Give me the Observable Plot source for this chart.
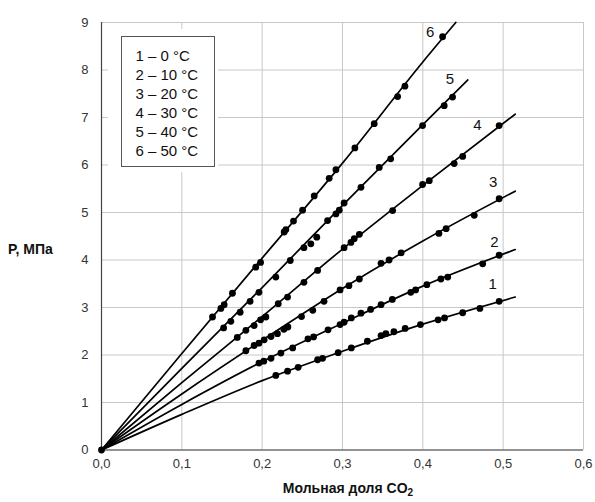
<!DOCTYPE html>
<html><head><meta charset="utf-8">
<script src="https://cdn.jsdelivr.net/npm/d3@7"></script>
<script src="https://cdn.jsdelivr.net/npm/@observablehq/plot@0.6"></script>
<style>
body{margin:0;background:#fff;}
#wrap{position:relative;width:595px;height:502px;font-family:"Liberation Sans",Arial,sans-serif;background:#fff;}
#legend{position:absolute;left:108px;top:29px;width:110px;height:143px;background:#fff;}
#legend .box{position:absolute;left:12.5px;top:6.5px;width:94px;height:131px;border:1px solid #555;box-sizing:border-box;padding:9px 0 0 14px;font-size:15px;line-height:19px;color:#111;}
#ytitle{position:absolute;left:8px;top:241px;font-size:14px;font-weight:bold;color:#111;}
#xtitle{position:absolute;left:248px;width:200px;top:480px;text-align:center;font-size:14px;font-weight:bold;color:#111;}
#xtitle sub{font-size:10px;vertical-align:-3px;line-height:0;}
</style></head>
<body><div id="wrap"></div>
<script>
// ---- data ----
const seriesNames = ["1", "2", "3", "4", "5", "6"];
const temperatures = ["0 °C", "10 °C", "20 °C", "30 °C", "40 °C", "50 °C"];
const xTicks = [0, 0.1, 0.2, 0.3, 0.4, 0.5, 0.6];
const yTicks = [0, 1, 2, 3, 4, 5, 6, 7, 8, 9];

// fitted curves
const curveX1 = [0, 0.1, 0.2, 0.3, 0.4, 0.515];
const curveP1 = [0, 0.75, 1.46, 2.08, 2.65, 3.22];
const curveX2 = [0, 0.1, 0.2, 0.3, 0.4, 0.515];
const curveP2 = [0, 0.96, 1.86, 2.67, 3.45, 4.22];
const curveX3 = [0, 0.1, 0.2, 0.3, 0.4, 0.515];
const curveP3 = [0, 1.18, 2.31, 3.40, 4.40, 5.45];
const curveX4 = [0, 0.1, 0.2, 0.3, 0.4, 0.515];
const curveP4 = [0, 1.42, 2.81, 4.23, 5.57, 7.07];
const curveX5 = [0, 0.1, 0.2, 0.3, 0.4, 0.456];
const curveP5 = [0, 1.72, 3.42, 5.15, 6.85, 7.79];
const curveX6 = [0, 0.1, 0.2, 0.3, 0.4, 0.441];
const curveP6 = [0, 2.03, 4.04, 6.04, 8.17, 9.0];

// experimental points
const dotX1 = [0, 0.217, 0.2316, 0.2448, 0.269, 0.2752, 0.2946, 0.311, 0.331, 0.348, 0.354, 0.364, 0.378, 0.397, 0.419, 0.427, 0.4496, 0.471, 0.495];
const dotP1 = [0, 1.57, 1.66, 1.74, 1.90, 1.93, 2.05, 2.15, 2.29, 2.41, 2.45, 2.49, 2.56, 2.64, 2.74, 2.78, 2.89, 2.98, 3.13];
const dotX2 = [0.196, 0.202, 0.211, 0.2233, 0.238, 0.257, 0.264, 0.282, 0.297, 0.302, 0.311, 0.323, 0.335, 0.348, 0.362, 0.385, 0.391, 0.405, 0.4225, 0.431, 0.4745, 0.495];
const dotP2 = [1.83, 1.87, 1.93, 2.04, 2.15, 2.34, 2.38, 2.53, 2.64, 2.69, 2.78, 2.88, 2.96, 3.06, 3.17, 3.32, 3.37, 3.48, 3.60, 3.64, 3.92, 4.10];
const dotX3 = [0.1797, 0.190, 0.196, 0.2025, 0.211, 0.219, 0.227, 0.232, 0.249, 0.263, 0.277, 0.297, 0.308, 0.321, 0.348, 0.358, 0.373, 0.420, 0.429, 0.464, 0.495];
const dotP3 = [2.09, 2.20, 2.25, 2.32, 2.39, 2.45, 2.54, 2.59, 2.81, 2.94, 3.13, 3.37, 3.46, 3.60, 3.93, 4.00, 4.15, 4.56, 4.66, 4.94, 5.29];
const dotX4 = [0.169, 0.1797, 0.190, 0.198, 0.2046, 0.220, 0.2316, 0.252, 0.269, 0.302, 0.3105, 0.3146, 0.321, 0.3624, 0.3997, 0.408, 0.439, 0.4496, 0.495];
const dotP4 = [2.37, 2.52, 2.62, 2.74, 2.80, 3.08, 3.22, 3.53, 3.78, 4.26, 4.37, 4.45, 4.54, 5.04, 5.59, 5.67, 6.03, 6.18, 6.83];
const dotX5 = [0.152, 0.161, 0.1726, 0.185, 0.196, 0.217, 0.235, 0.252, 0.2606, 0.268, 0.2814, 0.2918, 0.296, 0.302, 0.323, 0.3457, 0.360, 0.3997, 0.4266, 0.437];
const dotP5 = [2.57, 2.71, 2.90, 3.13, 3.32, 3.64, 3.99, 4.26, 4.34, 4.48, 4.83, 4.97, 5.05, 5.20, 5.53, 5.95, 6.13, 6.83, 7.25, 7.43];
const dotX6 = [0.1382, 0.1486, 0.1527, 0.163, 0.192, 0.198, 0.2274, 0.2295, 0.239, 0.2503, 0.2648, 0.2834, 0.2918, 0.3154, 0.3395, 0.3686, 0.3777, 0.4246];
const dotP6 = [2.80, 2.98, 3.06, 3.30, 3.85, 3.95, 4.59, 4.64, 4.82, 5.05, 5.35, 5.72, 5.90, 6.36, 6.87, 7.44, 7.66, 8.70];

// curve number labels
const labelX = [0.487, 0.489, 0.4877, 0.468, 0.4337, 0.409];
const labelP = [3.50, 4.37, 5.64, 6.83, 7.81, 8.80];

// ---- build tables ----
const curvesX = [curveX1, curveX2, curveX3, curveX4, curveX5, curveX6];
const curvesP = [curveP1, curveP2, curveP3, curveP4, curveP5, curveP6];
const dotsX = [dotX1, dotX2, dotX3, dotX4, dotX5, dotX6];
const dotsP = [dotP1, dotP2, dotP3, dotP4, dotP5, dotP6];
const curveRows = [], dotRows = [];
seriesNames.forEach((s, i) => {
  curvesX[i].forEach((x, j) => curveRows.push({s, x, p: curvesP[i][j]}));
  dotsX[i].forEach((x, j) => dotRows.push({s, x, p: dotsP[i][j]}));
});
const labelRows = seriesNames.map((s, i) => ({s, x: labelX[i], p: labelP[i]}));
const fmt = d => d.toFixed(1).replace(".", ",");

const chart = Plot.plot({
  width: 595, height: 502,
  marginLeft: 101, marginRight: 12, marginTop: 22, marginBottom: 52.5,
  style: {fontFamily: "'Liberation Sans', Arial, sans-serif", fontSize: "13px", color: "#333", background: "white"},
  x: {domain: [0, 0.6]},
  y: {domain: [0, 9]},
  marks: [
    Plot.gridX(xTicks, {stroke: "#c8c8c8", strokeOpacity: 1, strokeWidth: 1}),
    Plot.gridY(yTicks, {stroke: "#c8c8c8", strokeOpacity: 1, strokeWidth: 1}),
    Plot.axisX(xTicks, {tickSize: 0, tickPadding: 9, tickFormat: fmt, label: null, fill: "#333"}),
    Plot.axisY(yTicks, {tickSize: 0, tickPadding: 13, label: null, fill: "#333"}),
    Plot.ruleX([0], {stroke: "#444", strokeWidth: 1.2}),
    Plot.ruleY([0], {stroke: "#444", strokeWidth: 1.2}),
    Plot.line(curveRows, {x: "x", y: "p", z: "s", stroke: "black", strokeWidth: 1.7, curve: "monotone-x"}),
    Plot.dot(dotRows, {x: "x", y: "p", r: 3.4, fill: "black", stroke: "none"}),
    Plot.text(labelRows, {x: "x", y: "p", text: "s", fontSize: 15, fill: "#111"})
  ]
});

const wrap = document.getElementById("wrap");
wrap.appendChild(chart);
const legend = document.createElement("div");
legend.id = "legend";
const box = document.createElement("div");
box.className = "box";
box.innerHTML = seriesNames.map((s, i) => `${s} – ${temperatures[i]}`).join("<br>");
legend.appendChild(box);
wrap.appendChild(legend);
const yt = document.createElement("div");
yt.id = "ytitle"; yt.textContent = "P, МПа";
wrap.appendChild(yt);
const xt = document.createElement("div");
xt.id = "xtitle"; xt.innerHTML = "Мольная доля CO<sub>2</sub>";
wrap.appendChild(xt);
</script></body></html>
